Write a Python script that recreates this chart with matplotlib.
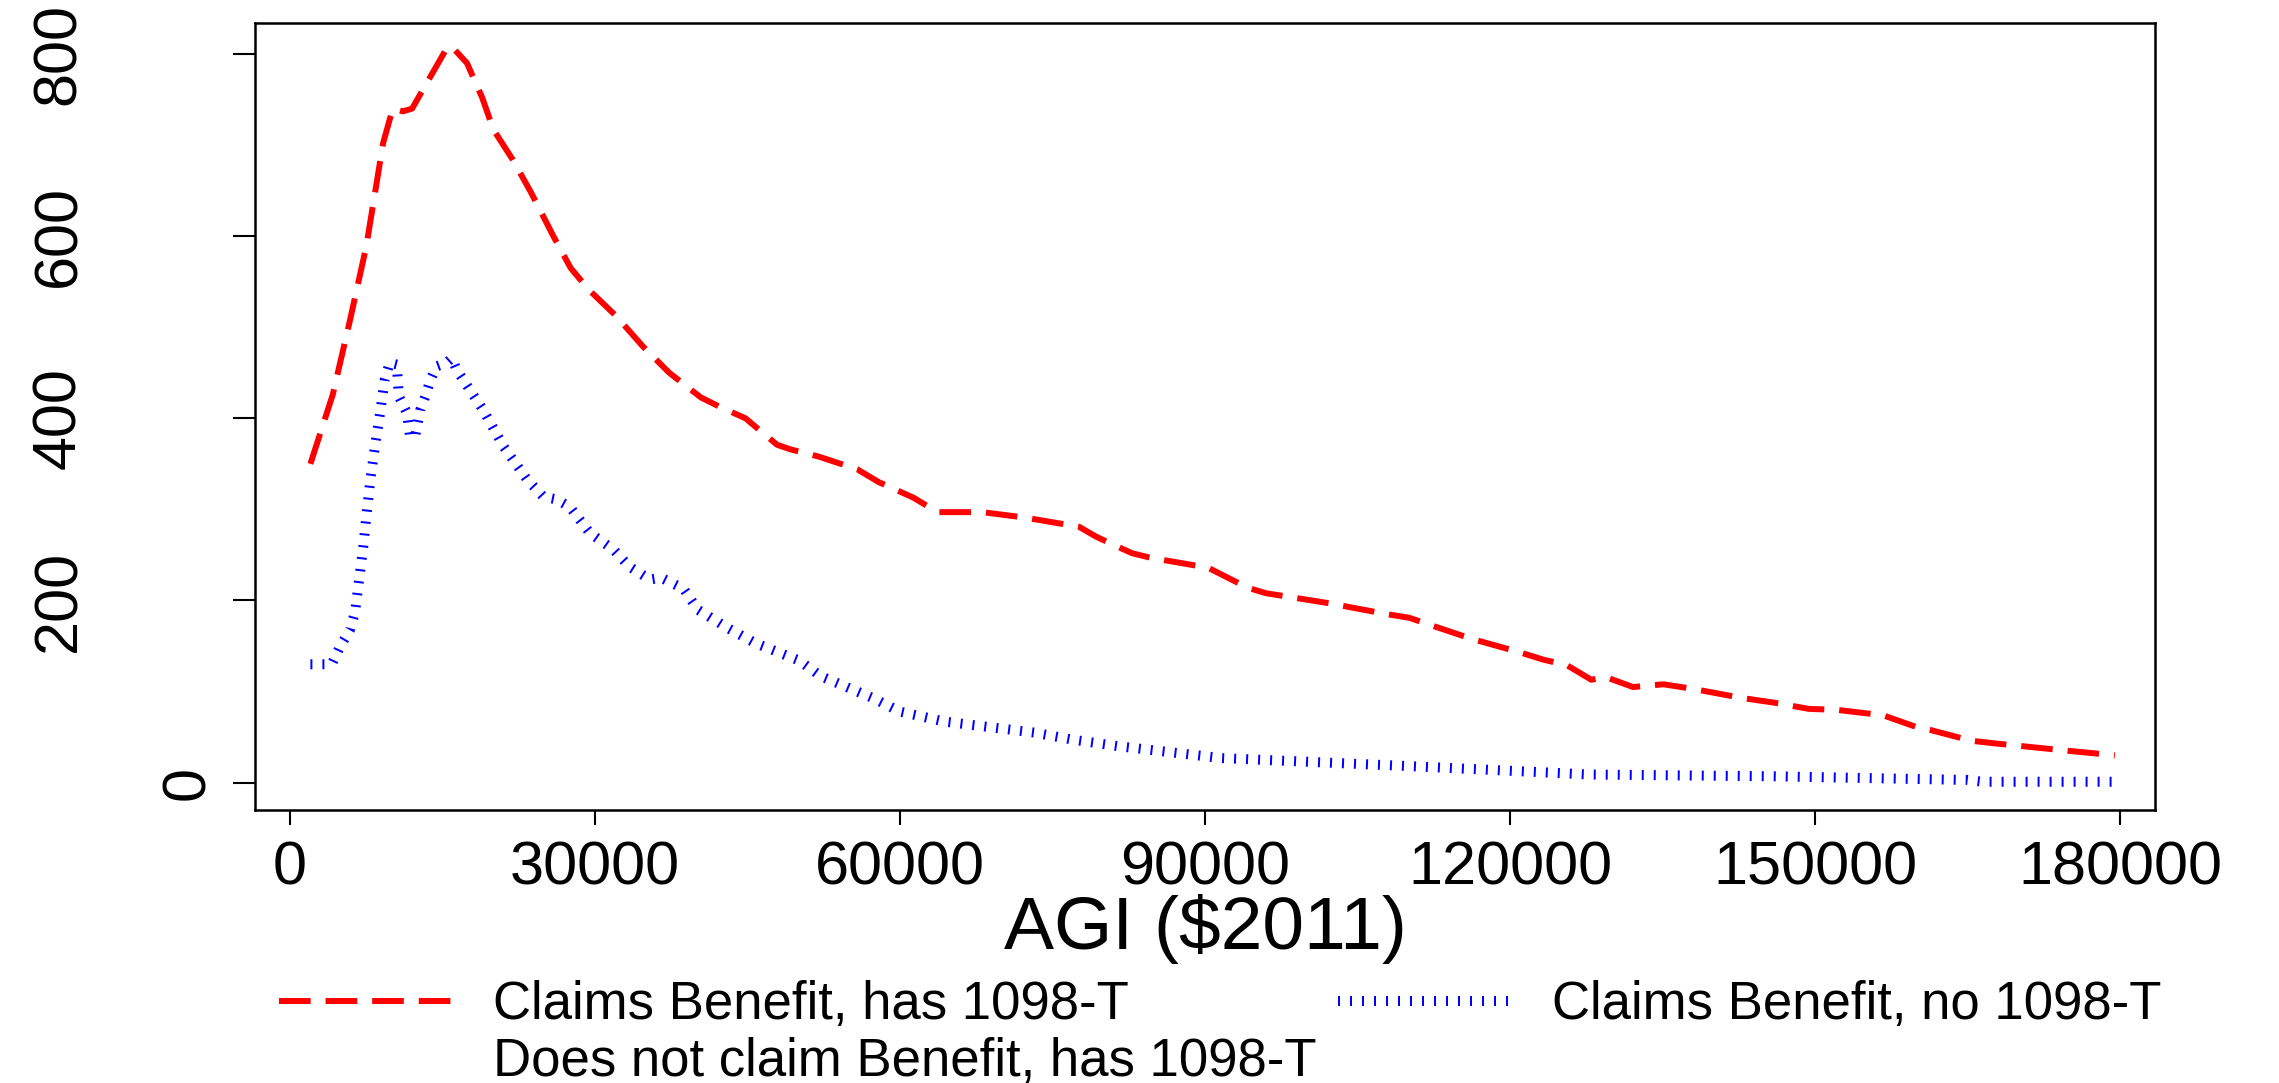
import matplotlib
matplotlib.use("Agg")
import matplotlib.pyplot as plt
from matplotlib.lines import Line2D

plt.rcParams["font.family"] = ["Liberation Sans", "DejaVu Sans"]

# AGI ($2011) and counts
red_x = [2000, 4200, 5900, 7500, 9150, 10100, 11100, 12000, 15500, 16000,
         17400, 18900, 20000, 21900, 23700, 25900, 27600, 29400, 32100, 34700,
         37300, 40400, 42200, 44800, 47900, 49200, 52000, 55800, 57900, 61300,
         63700, 68100, 72300, 77600, 79300, 82800, 84600, 90300, 94200, 96000,
         102200, 107900, 110100, 112200, 116200, 121000, 123300, 125600, 128000, 129400,
         132100, 135100, 138000, 142800, 145900, 149400, 152100, 156700, 160000, 161300,
         165400, 167800, 174900, 179500]
red_y = [350, 426, 508, 589, 702, 740, 737, 740, 808, 807,
         790, 752, 717, 684, 648, 600, 565, 541, 512, 479,
         450, 423, 413, 400, 371, 366, 358, 344, 330, 313,
         297, 297, 291, 281, 270, 252, 247, 236, 214, 208,
         197, 185, 181, 173, 158, 143, 135, 129, 113, 116,
         105, 108, 103, 93, 88, 81, 80, 74, 61, 58,
         46, 43, 35, 30]

blue_x = [2000, 4100, 4900, 5900, 6400, 6700, 7200, 7500, 7900, 8400,
          8900, 9300, 9800, 10500, 10700, 11500, 11800, 12300, 12800, 13300,
          13800, 14400, 15400, 15900, 16400, 19000, 21000, 23300, 24900, 26200,
          27500, 29500, 31800, 33400, 35400, 36500, 38700, 40100, 43000, 45800,
          50100, 52200, 57300, 60000, 64400, 73200, 77100, 81500, 91600, 110500,
          124000, 127600, 145900, 165000, 166500, 179500]
blue_y = [130, 130, 149, 168, 188, 215, 259, 292, 333, 373,
          409, 442, 461, 459, 424, 406, 380, 380, 409, 424,
          442, 457, 461, 466, 453, 409, 369, 333, 314, 311,
          303, 274, 256, 237, 223, 225, 213, 190, 170, 153,
          134, 117, 93, 78, 67, 55, 47, 40, 27, 18,
          11, 9, 7, 3, 1, 1]

x_ticks = [0, 30000, 60000, 90000, 120000, 150000, 180000]
y_ticks = [0, 200, 400, 600, 800]

labels = ["Claims Benefit, has 1098-T",
          "Claims Benefit, no 1098-T",
          "Does not claim Benefit, has 1098-T"]

W, H = 2279, 1083
fig = plt.figure(figsize=(W / 100, H / 100), dpi=100)
ax = fig.add_axes([255 / W, 1 - 810 / H, 1900 / W, 787 / H])

red_line, = ax.plot(red_x, red_y, color="red", lw=4.3,
                    linestyle=(0, (5.3, 2.5)), dash_capstyle="butt")
blue_line, = ax.plot(blue_x, blue_y, color="blue", lw=7.2,
                     linestyle=(0, (0.2, 1.0)), dash_capstyle="butt")

ax.set_xlim(-3450, 183450)
ax.set_ylim(-30, 834)
ax.set_xticks(x_ticks)
ax.set_xticklabels([str(v) for v in x_ticks])
ax.set_yticks(y_ticks)
ax.set_yticklabels([str(v) for v in y_ticks], rotation=90, va="center")

for s in ax.spines.values():
    s.set_linewidth(1.8)
ax.tick_params(axis="x", length=10.8, width=1.5, pad=11, labelsize=44)
ax.tick_params(axis="y", length=16, width=1.5, pad=104, labelsize=44)
ax.yaxis.get_major_ticks()[0].set_pad(11)

fig.text(1205 / W, 1 - 949 / H, "AGI ($2011)", ha="center", va="baseline",
         fontsize=54)

blank = Line2D([], [], linestyle="none")
leg_kw = dict(loc="center left", frameon=False, borderpad=0, borderaxespad=0,
              fontsize=38, handlelength=3.4, handletextpad=0.65)
fig.legend([red_line], [labels[0]], bbox_to_anchor=(279 / W, 1 - 1005 / H), **leg_kw)
fig.legend([blue_line], [labels[1]], bbox_to_anchor=(1338 / W, 1 - 1005 / H), **leg_kw)
fig.legend([blank], [labels[2]], bbox_to_anchor=(279 / W, 1 - 1062 / H), **leg_kw)

fig.savefig("out.png", dpi=100)
